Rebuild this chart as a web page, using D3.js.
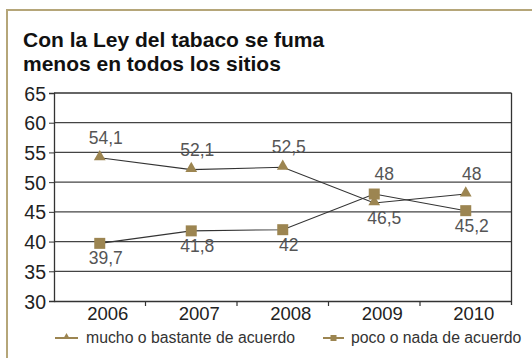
<!DOCTYPE html>
<html><head><meta charset="utf-8">
<script src="https://cdn.jsdelivr.net/npm/d3@7"></script>
<style>
body{margin:0;background:#fff;}
svg{display:block;font-family:"Liberation Sans",Arial,sans-serif;}
</style></head>
<body>
<script>
const years = ["2006","2007","2008","2009","2010"];
const mucho = [54.1, 52.1, 52.5, 46.5, 48];
const poco = [39.7, 41.8, 42, 48, 45.2];
const muchoLabelSide = ["above","above","above","below","above"];
const pocoLabelSide = ["below","below","below","above","below"];
const yTicks = [30,35,40,45,50,55,60,65];
const seriesNames = ["mucho o bastante de acuerdo","poco o nada de acuerdo"];
const titleLines = ["Con la Ley del tabaco se fuma","menos en todos los sitios"];

const W=532,H=358;
const mColor="#9c8551";
const svg=d3.select("body").append("svg").attr("width",W).attr("height",H);

// frame
svg.append("path").attr("d",`M7,${H} V10 H${W}`).attr("fill","none").attr("stroke","#b5a679").attr("stroke-width",2);

// title
svg.append("text").attr("x",23).attr("y",47).attr("font-size",21).attr("font-weight","bold").attr("fill","#111")
  .selectAll("tspan").data(titleLines).join("tspan").attr("x",23).attr("dy",(d,i)=>i?24:0).text(d=>d);

const L=54,R=511.5,T=93,B=301;
const x=d3.scaleBand().domain(years).range([L,R]);
const y=d3.scaleLinear().domain([30,65]).range([B,T]);

// gridlines
svg.append("g").selectAll("line").data(yTicks.filter(v=>v>30)).join("line")
  .attr("x1",L).attr("x2",R).attr("y1",d=>y(d)).attr("y2",d=>y(d))
  .attr("stroke",d=>d===65?"#333":"#444").attr("stroke-width",1.3);
// right border
svg.append("line").attr("x1",R).attr("x2",R).attr("y1",T).attr("y2",B+4).attr("stroke","#333").attr("stroke-width",1.3);

// y axis
const ya=svg.append("g").attr("transform",`translate(${L},0)`).call(d3.axisLeft(y).tickValues(yTicks).tickSize(5).tickPadding(3));
ya.select(".domain").attr("stroke","#333").attr("stroke-width",1.3);
ya.selectAll(".tick line").attr("stroke","#333");
ya.selectAll("text").attr("font-size",19.5).attr("fill","#222").attr("font-family","Liberation Sans, Arial, sans-serif").attr("dy","0.36em");

// x axis
const xa=svg.append("g").attr("transform",`translate(0,${B})`).call(d3.axisBottom(x).tickSize(0).tickPadding(6));
xa.select(".domain").attr("stroke","#333").attr("stroke-width",1.3);
xa.selectAll("text").attr("font-size",18.5).attr("fill","#222").attr("font-family","Liberation Sans, Arial, sans-serif").attr("dx",8).attr("dy","0.72em");
// tick marks between categories
svg.append("g").selectAll("line").data(years.slice(1)).join("line")
  .attr("x1",d=>x(d)).attr("x2",d=>x(d)).attr("y1",B).attr("y2",B+5).attr("stroke","#333").attr("stroke-width",1.2);

const cx=d=>x(d)+x.bandwidth()/2;
const line=d3.line().x((d,i)=>cx(years[i])).y(d=>y(d));

[mucho,poco].forEach(s=>{
  svg.append("path").datum(s).attr("d",line).attr("fill","none").attr("stroke","#333").attr("stroke-width",1.1);
});

const tri=d3.symbol().type(d3.symbolTriangle).size(60);
svg.append("g").selectAll("path").data(mucho).join("path")
  .attr("d",tri).attr("transform",(d,i)=>`translate(${cx(years[i])},${y(d)-1})`).attr("fill",mColor);
svg.append("g").selectAll("rect").data(poco).join("rect")
  .attr("x",(d,i)=>cx(years[i])-5.5).attr("y",d=>y(d)-5.5).attr("width",11).attr("height",11).attr("fill",mColor);

const fmt=v=>String(v).replace(".",",");
function labels(s,sides){
  svg.append("g").selectAll("text").data(s).join("text")
    .attr("x",(d,i)=>cx(years[i])+(years[i]==="2009"?10:6))
    .attr("y",(d,i)=>y(d)+(sides[i]==="above"?-14:21))
    .attr("text-anchor","middle").attr("font-size",17.5).attr("fill","#555").text(fmt);
}
labels(mucho,muchoLabelSide);
labels(poco,pocoLabelSide);

// legend
const leg=[{x1:55,x2:78,tx:86,type:"tri"},{x1:323,x2:344,tx:351,type:"sq"}];
leg.forEach((l,i)=>{
  const g=svg.append("g");
  g.append("line").attr("x1",l.x1).attr("x2",l.x2).attr("y1",338).attr("y2",338).attr("stroke",mColor).attr("stroke-width",2);
  const mx=(l.x1+l.x2)/2;
  if(l.type==="tri") g.append("path").attr("d",d3.symbol().type(d3.symbolTriangle).size(20)).attr("transform",`translate(${mx},337)`).attr("fill",mColor);
  else g.append("rect").attr("x",mx-3).attr("y",335).attr("width",6).attr("height",6).attr("fill",mColor);
  g.append("text").attr("x",l.tx).attr("y",343).attr("font-size",15.8).attr("fill","#333").text(seriesNames[i]);
});
</script>
</body></html>
